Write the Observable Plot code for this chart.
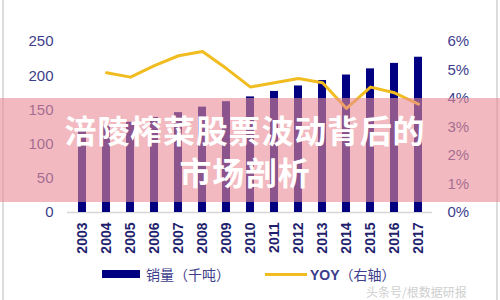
<!DOCTYPE html>
<html>
<head>
<meta charset="utf-8">
<script src="https://cdn.jsdelivr.net/npm/d3@7"></script>
<script src="https://cdn.jsdelivr.net/npm/@observablehq/plot@0.6"></script>
<style>
  html, body { margin: 0; padding: 0; background: #fff; }
  #wrap { position: relative; width: 500px; height: 300px; overflow: hidden; background: #fff; }
  #chart { position: absolute; left: 0; top: 0; }
  .frame { position: absolute; top: 0; width: 2px; height: 300px; background: #dcdcdc; }
  #banner { position: absolute; left: 0; top: 98px; width: 500px; height: 104px;
    background: rgba(233,140,150,0.6); z-index: 5; }
  .title { position: absolute; left: -5px; width: 500px; z-index: 6; text-align: center;
    color: #fff; font-family: "Noto Sans CJK SC", sans-serif; font-weight: 700; font-size: 32px;
    letter-spacing: 0.8px; line-height: 32px; height: 32px; white-space: nowrap; }
  .leg { position: absolute; font-family: "Noto Sans CJK SC", sans-serif; font-size: 14px; color: #3d3d8c;
    line-height: 14px; white-space: nowrap; }
  #wm { position: absolute; left: 366px; top: 285.5px; font-family: "Noto Sans CJK SC", sans-serif;
    font-size: 12px; color: #cfcfcf; white-space: nowrap; line-height: 12px; }
</style>
</head>
<body>
<div id="wrap">
  <div id="chart"></div>
  <div class="frame" style="left:2px"></div>
  <div class="frame" style="left:496px"></div>
  <div id="banner"></div>
  <div class="title" style="top:113px">涪陵榨菜股票波动背后的</div>
  <div class="title" style="top:155px">市场剖析</div>
  <div style="position:absolute;left:102px;top:270px;width:38px;height:8px;background:#000080"></div>
  <div class="leg" style="left:146px;top:267px">销量（千吨）</div>
  <div style="position:absolute;left:265px;top:273px;width:42px;height:3px;background:#f0bc1f"></div>
  <div class="leg" style="left:310px;top:267px"><span style="font-family:'Liberation Sans',sans-serif;font-weight:700">YOY</span>（右轴）</div>
  <div id="wm">头条号/根数据研报</div>
</div>
<script>
const years = ["2003","2004","2005","2006","2007","2008","2009","2010","2011","2012","2013","2014","2015","2016","2017"];
const sales = [120, 126, 132, 139, 146, 154, 162, 169, 177, 185, 193, 201, 210, 218, 227];
const yoy = [null, 4.9, 4.75, 5.15, 5.5, 5.65, 5.05, 4.4, 4.55, 4.7, 4.55, 3.65, 4.4, 4.2, 3.8];
const leftTicks = [0, 50, 100, 150, 200, 250];
const rightTicks = [0, 1, 2, 3, 4, 5, 6];

const leftMax = 250, rightMax = 6;
const toLeft = v => v * leftMax / rightMax;

const table = years.map((y, i) => ({year: y, sales: sales[i], yoy: yoy[i]}));
const lineData = table.filter(d => d.yoy != null);

const chart = Plot.plot({
  width: 500,
  height: 300,
  marginLeft: 67,
  marginRight: 68,
  marginTop: 41,
  marginBottom: 88,
  style: {fontFamily: "'Liberation Sans', Arial, sans-serif", fontSize: "15px", background: "transparent"},
  x: {type: "band", domain: years, paddingInner: 0.67, paddingOuter: 0.29, axis: null},
  y: {domain: [0, leftMax], axis: null},
  marks: [
    Plot.ruleY([0], {stroke: "#d6d6d6", strokeWidth: 1.5}),
    Plot.barY(table, {x: "year", y: "sales", fill: "#000080"}),
    Plot.line(lineData, {x: "year", y: d => toLeft(d.yoy), stroke: "#f0bc1f", strokeWidth: 3, curve: "linear"}),
    Plot.axisY({anchor: "left", ticks: leftTicks, tickSize: 0, tickPadding: 14, fill: "#3d3d8c", fontSize: 15, label: null}),
    Plot.axisY({anchor: "right", ticks: rightTicks.map(toLeft), tickFormat: d => Math.round(d * rightMax / leftMax) + "%",
      tickSize: 0, tickPadding: 15, fill: "#3d3d8c", fontSize: 15, label: null}),
    Plot.axisX({anchor: "bottom", tickSize: 0, tickPadding: 10, tickRotate: -90, fill: "#1f1f6e", fontSize: 14, fontWeight: "bold", label: null})
  ]
});
document.getElementById("chart").appendChild(chart);
</script>
</body>
</html>
